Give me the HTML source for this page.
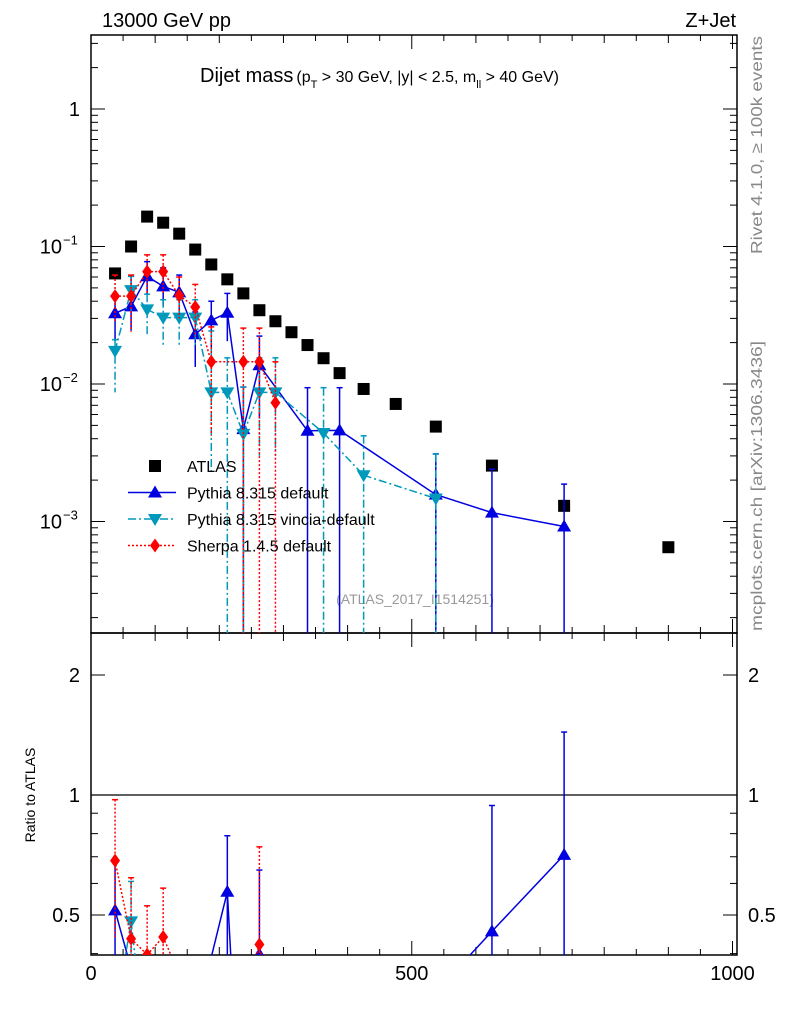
<!DOCTYPE html>
<html><head><meta charset="utf-8"><style>
html,body{margin:0;padding:0;background:#fff;overflow:hidden;width:786px;height:1024px;}
svg{display:block;font-family:"Liberation Sans",sans-serif;}
</style></head><body>
<svg id="c" width="786" height="1024" viewBox="0 0 786 1024" xmlns="http://www.w3.org/2000/svg">
<text x="102" y="27" font-size="20">13000 GeV pp</text>
<text x="736" y="27" font-size="20" text-anchor="end">Z+Jet</text>
<text x="200" y="82" font-size="20">Dijet mass<tspan font-size="16" dx="3">(p</tspan><tspan font-size="11" dy="6">T</tspan><tspan font-size="16" dy="-6"> &gt; 30 GeV, |y| &lt; 2.5, m</tspan><tspan font-size="11" dy="6">ll</tspan><tspan font-size="16" dy="-6"> &gt; 40 GeV)</tspan></text>
<text transform="translate(762,145) rotate(-90)" font-size="16" fill="#888" text-anchor="middle" textLength="218" lengthAdjust="spacingAndGlyphs">Rivet 4.1.0, ≥ 100k events</text>
<text transform="translate(762,486) rotate(-90)" font-size="16" fill="#888" text-anchor="middle" textLength="290" lengthAdjust="spacingAndGlyphs">mcplots.cern.ch [arXiv:1306.3436]</text>
<text x="415" y="604" font-size="14" fill="#999" text-anchor="middle">(ATLAS_2017_I1514251)</text>
<text transform="translate(35,795) rotate(-90)" font-size="14" text-anchor="middle">Ratio to ATLAS</text>
<g id="g"></g>
</svg>
<script>
const xBins = [37.5,62.5,87.5,112.5,137.5,162.5,187.5,212.5,237.5,262.5,287.5,312.5,337.5,362.5,387.5,425,475,537.5,625,737.5,900];
const atlasVals = [0.0637,0.100,0.165,0.149,0.124,0.095,0.074,0.0577,0.0456,0.0344,0.0286,0.0238,0.0192,0.0154,0.0120,0.0092,0.00716,0.0049,0.00255,0.00130,0.00065];
const pyX = [37.5,62.5,87.5,112.5,137.5,162.5,187.5,212.5,237.5,262.5,337.5,387.5,537.5,625,737.5];
const pyVals = [0.0327,0.0367,0.0607,0.0513,0.0464,0.023,0.029,0.033,0.0047,0.0137,0.00457,0.0046,0.00157,0.00116,0.00092];
const pyHi = [0.0434,0.0607,0.0776,0.070,0.062,0.0334,0.040,0.0456,0.0095,0.0223,0.0094,0.0094,0.0031,0.0024,0.00187];
const pyLo = [0.0205,0.0244,0.0447,0.0369,0.0323,0.0133,0.016,0.0205,0,0.0058,0,0,0,0,0];
const viX = [37.5,62.5,87.5,112.5,137.5,162.5,187.5,212.5,237.5,262.5,287.5,362.5,425,537.5];
const viVals = [0.0174,0.0482,0.0349,0.0304,0.0304,0.0304,0.0087,0.0087,0.00434,0.0087,0.0087,0.0044,0.00217,0.00147];
const viHi = [0.021,0.0607,0.045,0.041,0.041,0.041,0.0243,0.0155,0.0095,0.0155,0.0155,0.0094,0.0042,0.0031];
const viLo = [0.0087,0.033,0.022,0.0185,0.0185,0.0185,0.0023,0,0,0.003,0.003,0,0,0];
const shX = [37.5,62.5,87.5,112.5,137.5,162.5,187.5,237.5,262.5,287.5];
const shVals = [0.0436,0.0436,0.0656,0.0656,0.044,0.0363,0.0145,0.0145,0.0145,0.0073];
const shHi = [0.062,0.062,0.087,0.087,0.06,0.053,0.026,0.0255,0.0255,0.0145];
const shLo = [0.028,0.024,0.045,0.045,0.03,0.022,0.0042,0,0,0];
const yTickVals = [1,0.1,0.01,0.001];
const yTickLabels = ["1","10","10","10"];
const yTickExps = ["","−1","−2","−3"];
const rTickVals = [2,1,0.5];
const xTickVals = [0,500,1000];

const L=91,R=737,T=35,MB=633,RB=955;
const RMIN=0.397;
const X=v=>L+(v)*(R-L)/1007;
const Y=v=>109-137.5*Math.log10(v);
const RY=v=>795-398.6*Math.log10(v);
const g=document.getElementById('g');
const NS='http://www.w3.org/2000/svg';
function mk(tag,attrs,parent){const e=document.createElementNS(NS,tag);for(const k in attrs)e.setAttribute(k,attrs[k]);(parent||g).appendChild(e);return e;}

const defs=mk('defs',{});
const c1=mk('clipPath',{id:'cm'},defs);mk('rect',{x:L,y:T,width:R-L,height:MB-T},c1);
const c2=mk('clipPath',{id:'cr'},defs);mk('rect',{x:L,y:MB,width:R-L,height:RB-MB},c2);

let f=mk('rect',{x:L,y:T,width:R-L,height:MB-T,fill:'none',stroke:'#000','stroke-width':1.5});

f=mk('rect',{x:L,y:MB,width:R-L,height:RB-MB,fill:'none',stroke:'#000','stroke-width':1.5});


for(let v=0;v<=1000;v+=50){
  const big=v%500===0, len=big?14:(v%100===0?8:6);
  [[T,1],[MB,-1],[MB,1],[RB,-1]].forEach(([y0,d])=>{
    const t=mk('line',{x1:X(v),x2:X(v),y1:y0,y2:y0+d*len,stroke:'#000','stroke-width':1});
    
  });
}
xTickVals.forEach(v=>{
  const t=mk('text',{x:X(v),y:980,'font-size':20,'text-anchor':'middle'});t.textContent=v;
  
});
for(let d=-4;d<=0;d++){
  for(let m=1;m<=9;m++){
    const v=m*Math.pow(10,d), y=Y(v);
    if(y<T||y>MB)continue;
    const len=m===1?14:7;
    const t=mk('line',{x1:L,x2:L+len,y1:y,y2:y,stroke:'#000'});
    
    const t2=mk('line',{x1:R,x2:R-len,y1:y,y2:y,stroke:'#000'});
    
  }
}
yTickVals.forEach((v,i)=>{
  const t=mk('text',{x:i===0?80:62,y:Y(v)+7,'font-size':20,'text-anchor':'end'});
  t.textContent=yTickLabels[i];
  
  if(yTickExps[i]){const s=mk('text',{x:63,y:Y(v)-2,'font-size':13},g);s.textContent=yTickExps[i];
    }
});
[0.4,0.5,0.6,0.7,0.8,0.9,1,2].forEach(v=>{
  const y=RY(v);const len=(v===1||v===2||v===0.5)?14:7;
  const a=mk('line',{x1:L,x2:L+len,y1:y,y2:y,stroke:'#000'});
  
  const b=mk('line',{x1:R,x2:R-len,y1:y,y2:y,stroke:'#000'});
  
});
rTickVals.forEach(v=>{
  const a=mk('text',{x:80,y:RY(v)+7,'font-size':20,'text-anchor':'end'});a.textContent=v;
  
  const b=mk('text',{x:748,y:RY(v)+7,'font-size':20});b.textContent=v;
  
});
const one=mk('line',{x1:L,x2:R,y1:RY(1),y2:RY(1),stroke:'#000','stroke-width':1.2});


function marker(p,kind,x,y,color,name){
  let e;
  if(kind==='sq') e=mk('rect',{x:x-6,y:y-6,width:12,height:12,fill:color},p);
  else if(kind==='up') e=mk('polygon',{points:`${x},${y-7} ${x-7},${y+5} ${x+7},${y+5}`,fill:color},p);
  else if(kind==='down') e=mk('polygon',{points:`${x},${y+7} ${x-7},${y-5} ${x+7},${y-5}`,fill:color},p);
  else e=mk('polygon',{points:`${x},${y-7} ${x-5},${y} ${x},${y+7} ${x+5},${y}`,fill:color},p);
  
  
}
function clippedPath(pts,bottom){
  let d='';
  for(let i=0;i<pts.length-1;i++){
    let [x1,y1]=pts[i],[x2,y2]=pts[i+1];
    if(y1>bottom&&y2>bottom) continue;
    if(y1>bottom){x1=x1+(x2-x1)*(bottom-y1)/(y2-y1);y1=bottom;}
    if(y2>bottom){x2=x1+(x2-x1)*(bottom-y1)/(y2-y1);y2=bottom;}
    d+=`M${x1},${y1}L${x2},${y2}`;
  }
  return d||'M0,0';
}
function series(xs,vals,hi,lo,color,dash,kind,name,ratio){
  const p=mk('g',{'clip-path':ratio?'url(#cr)':'url(#cm)'});
  const bottom=(ratio?RB:MB)+10;
  const yraw=ratio?RY:Y;
  const yf=v=>Math.min(yraw(v),bottom);
  const norm=i=>{if(!ratio)return 1;const j=xBins.indexOf(xs[i]);return atlasVals[j];};
  const val=i=>vals[i]/norm(i);
  const pts=xs.map((x,i)=>{const v=val(i);return [X(x),v>0?yraw(v):1e6];});
  const ln=mk('path',{d:clippedPath(pts,bottom),fill:'none',stroke:color,'stroke-width':1.5,'stroke-dasharray':dash},p);
  
  xs.forEach((x,i)=>{
    if(ratio && val(i)<RMIN) return;
    const h=hi[i]/norm(i), l=lo[i]/norm(i);
    const y1=yf(h), y2=l>0?yf(l):bottom;
    const e=mk('line',{x1:X(x),x2:X(x),y1:y1,y2:y2,stroke:color,'stroke-width':1.5,'stroke-dasharray':dash},p);
    
    const cap=mk('line',{x1:X(x)-3,x2:X(x)+3,y1:y1,y2:y1,stroke:color,'stroke-width':1.5},p);
    
    marker(p,kind,X(x),yf(val(i)),color,name+'-point');
  });
}
const ag=mk('g',{'clip-path':'url(#cm)'});
xBins.forEach((x,i)=>marker(ag,'sq',X(x),Y(atlasVals[i]),'#000','atlas-point'));
series(pyX,pyVals,pyHi,pyLo,'#0000e0','','up','pythia',false);
series(viX,viVals,viHi,viLo,'#0099bb','8,3,2,3','down','vincia',false);
series(shX,shVals,shHi,shLo,'#ff0000','2,2','dia','sherpa',false);
series(pyX,pyVals,pyHi,pyLo,'#0000e0','','up','pythia-ratio',true);
series(viX,viVals,viHi,viLo,'#0099bb','8,3,2,3','down','vincia-ratio',true);
series(shX,shVals,shHi,shLo,'#ff0000','2,2','dia','sherpa-ratio',true);

const lg=mk('g',{});

const entries=[['ATLAS','#000','','sq'],['Pythia 8.315 default','#0000e0','','up'],['Pythia 8.315 vincia-default','#0099bb','8,3,2,3','down'],['Sherpa 1.4.5 default','#ff0000','2,2','dia']];
entries.forEach((e,i)=>{
  const y=466+i*26.5;
  const eg=mk('g',{},lg);
  
  if(i>0){const l=mk('line',{x1:128,x2:176,y1:y,y2:y,stroke:e[1],'stroke-width':1.5,'stroke-dasharray':e[2]},eg);
    }
  marker(eg,e[3],155,y,e[1],'legend-marker');
  const t=mk('text',{x:187,y:y+6,'font-size':16},eg);t.textContent=e[0];
  
});
</script>
</body></html>
